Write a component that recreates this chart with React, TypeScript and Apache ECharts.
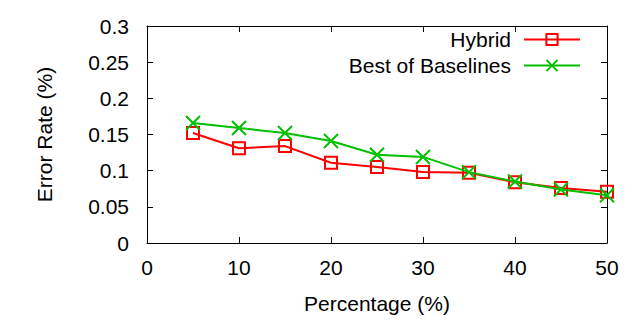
import React, { useEffect, useRef } from "react";
import * as echarts from "echarts";

const percentages = [5, 10, 15, 20, 25, 30, 35, 40, 45, 50];
const hybrid = [0.152, 0.131, 0.134, 0.111, 0.105, 0.098, 0.097, 0.084, 0.076, 0.071];
const bestOfBaselines = [0.166, 0.159, 0.152, 0.141, 0.122, 0.119, 0.098, 0.085, 0.074, 0.066];

const FONT = "Liberation Sans";
const FS = 21;

export default function App() {
  const ref = useRef<HTMLDivElement>(null);
  useEffect(() => {
    if (!ref.current) return;
    const chart = echarts.init(ref.current, null, { renderer: "svg" });
    const axisCommon = {
      type: "value" as const,
      axisLine: { show: true, onZero: false, lineStyle: { color: "#000", width: 1 } },
      axisTick: { show: true, inside: true, length: 6, lineStyle: { color: "#000" } },
      splitLine: { show: false },
    };
    chart.setOption({
      animation: false,
      backgroundColor: "#fff",
      textStyle: { fontFamily: FONT },
      grid: { left: 147, right: 33, top: 26, bottom: 77, containLabel: false },
      legend: {
        orient: "vertical",
        right: 59,
        top: 29,
        align: "right",
        itemWidth: 56,
        itemHeight: 14,
        itemGap: 5,
        padding: 0,
        textStyle: { fontFamily: FONT, fontSize: FS, color: "#000", padding: [0, 8, 0, 0] },
        data: ["Hybrid", "Best of Baselines"],
      },
      xAxis: [
        {
          ...axisCommon,
          position: "bottom",
          min: 0,
          max: 50,
          interval: 10,
          name: "Percentage (%)",
          nameLocation: "middle",
          nameGap: 50,
          nameTextStyle: { fontFamily: FONT, fontSize: FS, color: "#000" },
          axisLabel: { fontFamily: FONT, fontSize: FS, color: "#000", margin: 14 },
        },
        {
          ...axisCommon,
          position: "top",
          min: 0,
          max: 50,
          interval: 10,
          axisLabel: { show: false },
        },
      ],
      yAxis: [
        {
          ...axisCommon,
          position: "left",
          min: 0,
          max: 0.3,
          interval: 0.05,
          name: "Error Rate (%)",
          nameLocation: "middle",
          nameGap: 92,
          nameRotate: 90,
          nameTextStyle: { fontFamily: FONT, fontSize: FS, color: "#000" },
          axisLabel: { fontFamily: FONT, fontSize: FS, color: "#000", margin: 18 },
        },
        {
          ...axisCommon,
          position: "right",
          min: 0,
          max: 0.3,
          interval: 0.05,
          axisLabel: { show: false },
        },
      ],
      series: [
        {
          name: "Hybrid",
          type: "line",
          data: percentages.map((p, i) => [p, hybrid[i]]),
          symbol: "path://M0,0L10,0L10,10L0,10Z",
          symbolSize: 12,
          lineStyle: { color: "#ff0000", width: 2 },
          itemStyle: { color: "rgba(0,0,0,0)", borderColor: "#ff0000", borderWidth: 2 },
          clip: false,
          z: 2,
        },
        {
          name: "Best of Baselines",
          type: "line",
          data: percentages.map((p, i) => [p, bestOfBaselines[i]]),
          symbol: "path://M0,0L10,10M10,0L0,10",
          symbolSize: 14,
          lineStyle: { color: "#00c000", width: 2 },
          itemStyle: { color: "rgba(0,0,0,0)", borderColor: "#00c000", borderWidth: 2 },
          clip: false,
          z: 3,
        },
      ],
    });
    return () => chart.dispose();
  }, []);
  return <div ref={ref} style={{ width: 640, height: 320, position: "absolute", left: 0, top: 0 }} />;
}
